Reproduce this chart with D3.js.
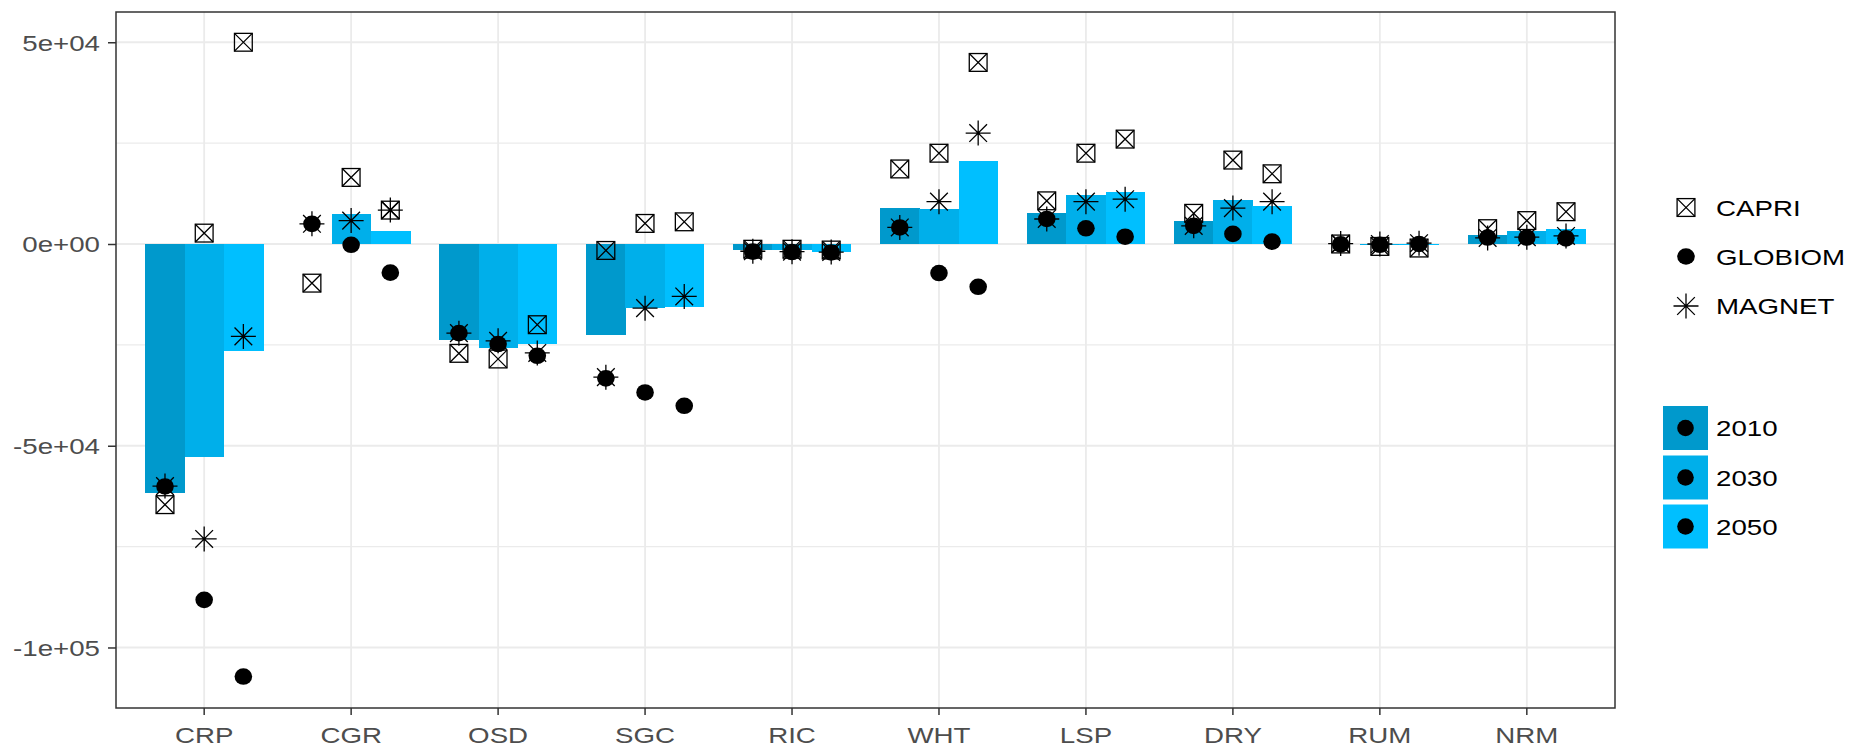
<!DOCTYPE html>
<html>
<head>
<meta charset="utf-8">
<script src="https://cdn.jsdelivr.net/npm/d3@7"></script>
<style>
  html, body { margin: 0; padding: 0; background: #ffffff; }
  svg { display: block; }
  text { font-family: "Liberation Sans", Arial, Helvetica, sans-serif; }
</style>
</head>
<body>
<svg id="chart" width="1854" height="748"></svg>
<script>
// ---------------- DATA ----------------
const categories = ["CRP", "CGR", "OSD", "SGC", "RIC", "WHT", "LSP", "DRY", "RUM", "NRM"];
const years = ["2010", "2030", "2050"];
const models = ["CAPRI", "GLOBIOM", "MAGNET"];

// bar values per year (same order as categories)
const bar2010 = [-61600, 0, -23800, -22500, -1500, 8900, 7800, 5700, 0, 2200];
const bar2030 = [-52750, 7400, -25700, -15800, -1600, 8600, 12200, 10800, -300, 3200];
const bar2050 = [-26500, 3200, -24800, -15700, -2000, 20600, 13000, 9400, -200, 3800];

// model point values per year
const capri2010 = [-64600, -9700, -27100, -1600, -1300, 18600, 10700, 7600, 0, 3800];
const capri2030 = [2700, 16500, -28500, 5100, -1300, 22500, 22500, 20800, -600, 5800];
const capri2050 = [50000, 8400, -20000, 5500, -1500, 45000, 26000, 17400, -1000, 8000];

const globiom2010 = [-60100, 5000, -22100, -33300, -1900, 4100, 6200, 4500, -100, 1600];
const globiom2030 = [-88200, -200, -24800, -36800, -2000, -7200, 3900, 2500, -200, 1600];
const globiom2050 = [-107200, -7100, -27700, -40100, -2100, -10600, 1800, 600, 0, 1400];

const magnet2010 = [-60000, 5000, -22100, -33000, -1800, 4100, 6200, 4500, 100, 1500];
const magnet2030 = [-73100, 5800, -24000, -15900, -1900, 10500, 10500, 8900, 0, 1700];
const magnet2050 = [-22900, 8400, -27000, -13000, -2000, 27500, 11100, 10500, 200, 2000];

const yTickValues = [-100000, -50000, 0, 50000];
const yTickLabels = ["-1e+05", "-5e+04", "0e+00", "5e+04"];
const yMinorValues = [-75000, -25000, 25000];

// ---------------- BUILD TABLES ----------------
const barSeries = { "2010": bar2010, "2030": bar2030, "2050": bar2050 };
const pointSeries = {
  CAPRI: { "2010": capri2010, "2030": capri2030, "2050": capri2050 },
  GLOBIOM: { "2010": globiom2010, "2030": globiom2030, "2050": globiom2050 },
  MAGNET: { "2010": magnet2010, "2030": magnet2030, "2050": magnet2050 }
};
const barData = [];
years.forEach(yr => categories.forEach((c, i) => barData.push({ cat: c, year: yr, value: barSeries[yr][i] })));
const pointData = [];
models.forEach(m => years.forEach(yr => categories.forEach((c, i) =>
  pointData.push({ model: m, cat: c, year: yr, value: pointSeries[m][yr][i] }))));

// ---------------- STYLE / LAYOUT ----------------
const yearColors = { "2010": "#0099CC", "2030": "#00AFEA", "2050": "#00BFFF" };
const FS = 22.5, SX = 1.23;
const panel = { left: 116, right: 1615, top: 12, bottom: 708 };

const svg = d3.select("#chart");

const x = d3.scaleBand().domain(categories)
  .range([panel.left, panel.right]).paddingInner(0.2).paddingOuter(0.2);
const xYear = d3.scaleBand().domain(years).range([0, x.bandwidth()]);
const y = d3.scaleLinear().domain([-115000, 57500]).range([panel.bottom, panel.top]);

// grid
const grid = svg.append("g");
grid.selectAll("line.minor").data(yMinorValues).enter().append("line")
  .attr("x1", panel.left).attr("x2", panel.right)
  .attr("y1", d => y(d)).attr("y2", d => y(d))
  .attr("stroke", "#EBEBEB").attr("stroke-width", 1.3);
grid.selectAll("line.majory").data(yTickValues).enter().append("line")
  .attr("x1", panel.left).attr("x2", panel.right)
  .attr("y1", d => y(d)).attr("y2", d => y(d))
  .attr("stroke", "#EBEBEB").attr("stroke-width", 1.8);
grid.selectAll("line.majorx").data(categories).enter().append("line")
  .attr("x1", d => x(d) + x.bandwidth() / 2).attr("x2", d => x(d) + x.bandwidth() / 2)
  .attr("y1", panel.top).attr("y2", panel.bottom)
  .attr("stroke", "#EBEBEB").attr("stroke-width", 1.8);

// bars
svg.append("g").attr("shape-rendering", "crispEdges")
  .selectAll("rect").data(barData.filter(d => d.value !== 0)).enter().append("rect")
  .attr("x", d => x(d.cat) + xYear(d.year))
  .attr("width", xYear.bandwidth() + 0.6)
  .attr("y", d => Math.min(y(0), y(d.value)))
  .attr("height", d => Math.abs(y(d.value) - y(0)))
  .attr("fill", d => yearColors[d.year]);

// markers
function drawMarker(g, model, cx, cy) {
  const s = 8.9, L = 12.5;
  if (model === "CAPRI") {
    g.append("rect").attr("x", cx - s).attr("y", cy - s).attr("width", 2 * s).attr("height", 2 * s)
      .attr("fill", "none").attr("stroke", "#000").attr("stroke-width", 1.3);
    g.append("path").attr("d", `M${cx - s},${cy - s}L${cx + s},${cy + s}M${cx - s},${cy + s}L${cx + s},${cy - s}`)
      .attr("stroke", "#000").attr("stroke-width", 1.3).attr("fill", "none");
  } else if (model === "GLOBIOM") {
    g.append("ellipse").attr("cx", cx).attr("cy", cy).attr("rx", 8.8).attr("ry", 8.3).attr("fill", "#000");
  } else {
    const d = L / Math.SQRT2;
    g.append("path").attr("d",
      `M${cx - L},${cy}L${cx + L},${cy}M${cx},${cy - L}L${cx},${cy + L}` +
      `M${cx - d},${cy - d}L${cx + d},${cy + d}M${cx - d},${cy + d}L${cx + d},${cy - d}`)
      .attr("stroke", "#000").attr("stroke-width", 1.3).attr("fill", "none");
  }
}
const pts = svg.append("g");
pointData.forEach(p => {
  const cx = x(p.cat) + xYear(p.year) + xYear.bandwidth() / 2;
  drawMarker(pts, p.model, cx, y(p.value));
});

// panel border
svg.append("rect").attr("x", panel.left).attr("y", panel.top)
  .attr("width", panel.right - panel.left).attr("height", panel.bottom - panel.top)
  .attr("fill", "none").attr("stroke", "#333333").attr("stroke-width", 1.5);

// axes
const yAxis = d3.axisLeft(y).tickValues(yTickValues)
  .tickFormat((d, i) => yTickLabels[i]).tickSize(8).tickPadding(8);
const gy = svg.append("g").attr("transform", `translate(${panel.left},0)`).call(yAxis);
gy.select(".domain").remove();
gy.selectAll(".tick line").attr("stroke", "#333333").attr("stroke-width", 1.5);
gy.selectAll(".tick text")
  .attr("fill", "#4D4D4D").attr("font-size", FS)
  .attr("font-family", "'Liberation Sans', Arial, sans-serif")
  .attr("x", null).attr("dy", "0.35em")
  .attr("transform", `translate(-16,0) scale(${SX},1)`);

const xAxis = d3.axisBottom(x).tickSize(7).tickPadding(12);
const gx = svg.append("g").attr("transform", `translate(0,${panel.bottom})`).call(xAxis);
gx.select(".domain").remove();
gx.selectAll(".tick line").attr("stroke", "#333333").attr("stroke-width", 1.5);
gx.selectAll(".tick text")
  .attr("fill", "#4D4D4D").attr("font-size", FS)
  .attr("font-family", "'Liberation Sans', Arial, sans-serif")
  .attr("y", null).attr("dy", null)
  .attr("transform", `translate(0,35) scale(${SX},1)`);

// legend: models
const lg1 = svg.append("g");
const modelLegendY = [207.5, 256.5, 306];
models.forEach((m, i) => {
  drawMarker(lg1, m, 1686, modelLegendY[i]);
  lg1.append("text").attr("transform", `translate(1716,${modelLegendY[i]}) scale(${SX},1)`)
    .attr("dy", "0.36em").attr("font-size", FS).attr("fill", "#000").text(m);
});

// legend: years
const lg2 = svg.append("g");
const keyTop = [406, 455.5, 504.5];
years.forEach((yr, i) => {
  lg2.append("rect").attr("x", 1663).attr("y", keyTop[i]).attr("width", 45).attr("height", 44)
    .attr("fill", yearColors[yr]);
  lg2.append("ellipse").attr("cx", 1685.5).attr("cy", keyTop[i] + 22).attr("rx", 8.3).attr("ry", 8.3).attr("fill", "#000");
  lg2.append("text").attr("transform", `translate(1716,${keyTop[i] + 22}) scale(${SX},1)`)
    .attr("dy", "0.36em").attr("font-size", FS).attr("fill", "#000").text(yr);
});
</script>
</body>
</html>
